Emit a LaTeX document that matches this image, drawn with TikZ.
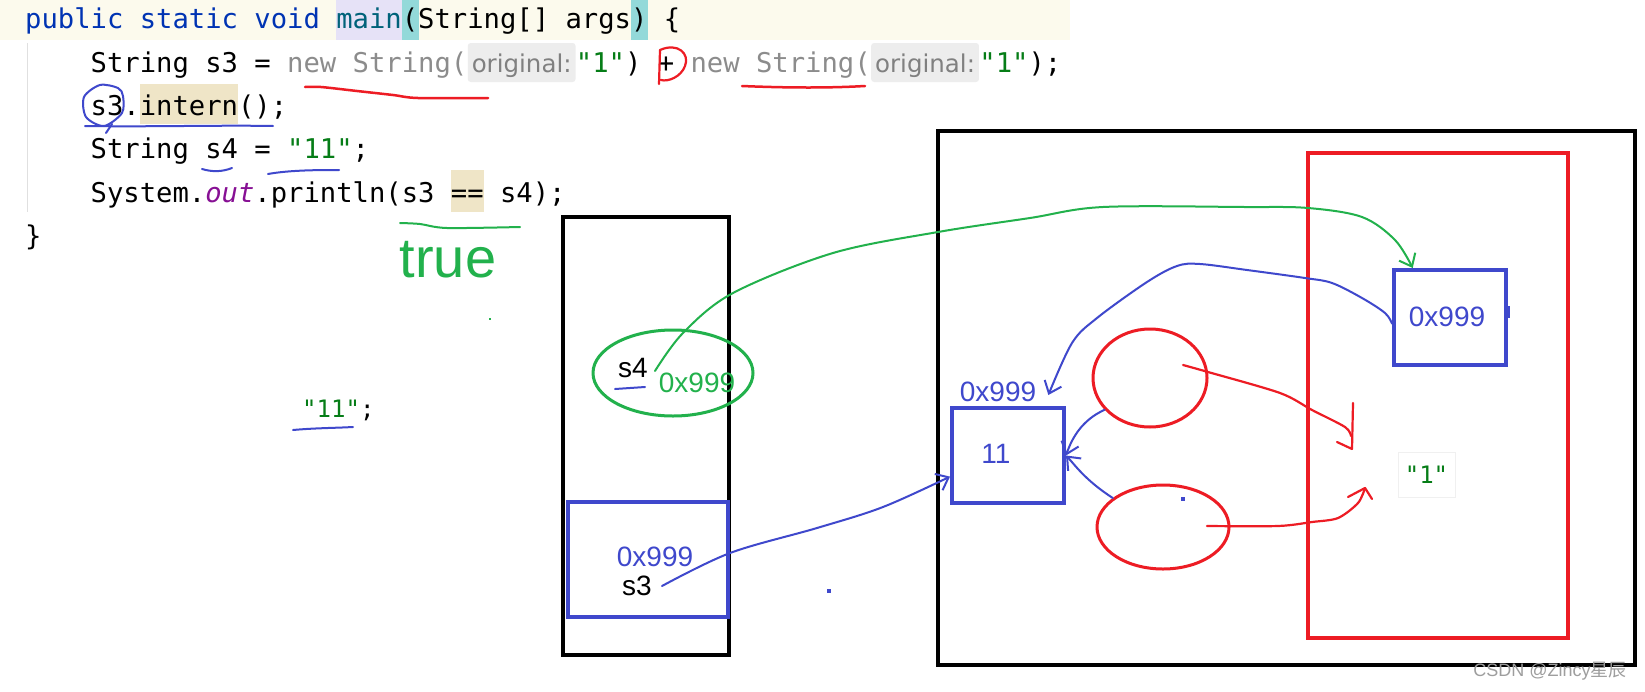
\documentclass[tikz,border=0pt]{standalone}
\usepackage{fontspec}
\usetikzlibrary{arrows.meta,shapes.geometric}
\newfontfamily\codefont{DejaVu Sans Mono}
\newfontfamily\hintfont{DejaVu Sans}
\newfontfamily\drawfont{Liberation Sans}
\newfontfamily\cjkfont{Noto Sans CJK SC}
\definecolor{pred}{HTML}{ED1C24}
\definecolor{pblue}{HTML}{3F48CC}
\definecolor{pgreen}{HTML}{22B14C}
\definecolor{kw}{HTML}{0033B3}
\definecolor{meth}{HTML}{00627A}
\definecolor{strg}{HTML}{067D17}
\definecolor{dim}{HTML}{8C8C8C}
\definecolor{hintfg}{HTML}{808080}
\definecolor{hintbg}{HTML}{EDEDED}
\definecolor{purp}{HTML}{871094}
\definecolor{linehl}{HTML}{FCFAED}
\definecolor{mainbg}{HTML}{E6E2F7}
\definecolor{parenbg}{HTML}{93D9D9}
\definecolor{tanbg}{HTML}{EFE5C7}
\begin{document}
\begin{tikzpicture}[x=1pt,y=-1pt,
  code/.style={font=\codefont\fontsize{27.2}{32}\selectfont, inner sep=0pt, anchor=base west},
  hint/.style={font=\hintfont\fontsize{24.5}{28}\selectfont, text=hintfg, fill=hintbg, rounded corners=3pt, anchor=base west, inner xsep=4pt, inner ysep=0pt, text height=29pt, text depth=10pt},
  lbl/.style={font=\drawfont\fontsize{28}{32}\selectfont, inner sep=0pt},
  frame/.style={draw=black, line width=4.5pt, inner sep=0pt},
  bluebox/.style={draw=pblue, line width=4pt, inner sep=0pt},
  hb/.style={draw=pblue, line width=2pt, line cap=round, line join=round},
  hg/.style={draw=pgreen, line width=2pt, line cap=round, line join=round},
  hr/.style={draw=pred, line width=2.2pt, line cap=round, line join=round},
  barb/.style={-{Straight Barb[length=11pt,width=18pt]}},
]
\useasboundingbox (0,0) rectangle (1645,691);
\fill[white] (0,0) rectangle (1645,691);

% ---------- code backgrounds ----------
\fill[linehl] (0,0) rectangle (1070,40);
\fill[mainbg] (336,0) rectangle (402,40);
\fill[parenbg] (402,0) rectangle (418.5,40);
\fill[parenbg] (631,0) rectangle (647.5,40);
\fill[tanbg] (139.6,84) rectangle (237.9,124);
\fill[tanbg] (450.8,170) rectangle (483.5,212);
\draw[black!12, line width=1pt] (27,43) -- (27,212);

% ---------- code ----------
\node[code] (l1) at (25,28) {\textcolor{kw}{public static void} \textcolor{meth}{main}(String[] args) \{};
\node[code] (l2a) at (90.5,72) {String s3 = \textcolor{dim}{new String(}};
\node[hint] (h1) at (l2a.base east) {original:};
\node[code] (l2b) at (h1.base east) {\textcolor{strg}{"1"}) + \textcolor{dim}{new String(}};
\node[hint] (h2) at (l2b.base east) {original:};
\node[code] (l2c) at (h2.base east) {\textcolor{strg}{"1"});};
\node[code] (l3) at (90.5,115) {s3.intern();};
\node[code] (l4) at (90.5,158) {String s4 = \textcolor{strg}{"11"};};
\node[code] (l5) at (90.5,202) {System.\textcolor{purp}{\itshape out}.println(s3 == s4);};
\node[code] (l6) at (25,245) {\}};

% ---------- code annotations ----------
\draw[hr, line width=2.5pt] plot[smooth] coordinates {(305,87) (321,87) (357,91) (393,95) (418,98) (488,98)};
\draw[hr, line width=2.5pt] (742,86) .. controls (790,88) and (830,88) .. (865,86);
\draw[hr] (659,84) -- (660,50) .. controls (678,42) and (690,54) .. (685,66) .. controls (681,77) and (668,82) .. (661,80);
\draw[hb] plot[smooth cycle] coordinates {(118,88) (100,85) (84,97) (86,117) (104,126) (122,113) (123,96)};
\draw[hb] (112,124) -- (106,133);
\draw[hb] (85,126) .. controls (150,127) and (220,125) .. (273,126);
\draw[hb] (202,169) .. controls (212,172) and (222,172) .. (232,168);
\draw[hb] (268,174) .. controls (290,170) and (320,170) .. (339,170);
\draw[hg] plot[smooth] coordinates {(400,223) (420,224) (447,228) (520,227)};
\node[font=\drawfont\fontsize{56}{60}\selectfont, text=pgreen, anchor=base, inner sep=0pt] (true) at (448,277) {true};
\fill[pgreen] (489,318) rectangle (491,320);

\node[code, font=\codefont\fontsize{24}{28}\selectfont] (lit) at (302,417) {\textcolor{strg}{"11"};};
\draw[hb] (293,430) .. controls (315,428) and (335,428) .. (353,427);

% ---------- stack ----------
\node[frame, minimum width=166pt, minimum height=438pt] (stack) at (646,436) {};
\node[bluebox, minimum width=160pt, minimum height=115pt] (s3box) at (648,559.5) {};
\node[lbl, text=pblue] (s3val) at (655,557) {0x999};
\node[lbl] (s3name) at (637,586) {s3};
\node[draw=pgreen, line width=3pt, ellipse, minimum width=160pt, minimum height=86pt, inner sep=0pt] (s4ell) at (673,373) {};
\node[lbl] (s4name) at (633,368) {s4};
\draw[hb] (615,389) -- (645,387);
\node[lbl, text=pgreen] (s4val) at (697,383) {0x999};
\fill[pblue] (827,589) rectangle (831,593);

% ---------- heap ----------
\node[frame, minimum width=697pt, minimum height=534pt] (heap) at (1286.5,398) {};
\node[draw=pred, line width=4pt, minimum width=260pt, minimum height=485pt, inner sep=0pt] (pool) at (1438,395.5) {};
\node[bluebox, minimum width=112pt, minimum height=95pt] (rbox) at (1450,317.5) {};
\node[lbl, text=pblue] (rval) at (1447,317) {0x999};
\node[bluebox, minimum width=112pt, minimum height=95pt] (b11) at (1008,455.5) {};
\node[lbl, text=pblue] (v11) at (996,454) {11};
\node[lbl, text=pblue] (addr) at (998,392) {0x999};
\node[draw=pred, line width=3pt, ellipse, minimum width=114pt, minimum height=98pt, inner sep=0pt] (rc1) at (1150,378) {};
\node[draw=pred, line width=3pt, ellipse, minimum width=132pt, minimum height=84pt, inner sep=0pt] (rc2) at (1163,527) {};
\fill[pblue] (1181,497) rectangle (1185,501);
\node[draw=black!6, line width=1pt, font=\codefont\fontsize{24}{28}\selectfont, text=strg, minimum width=57pt, minimum height=45pt, inner sep=0pt] (one) at (1426.5,474.5) {"1"};
\draw[pblue, line width=3pt] (1393,333) -- (1393,347);
\draw[pblue, line width=3pt] (1508,306) -- (1508,318);

% ---------- connectors ----------
\draw[hg, barb] plot[smooth, tension=0.55] coordinates {([xshift=7pt,yshift=-3pt]s4name.east) (683,333) (733,293) (833,253) (938,232) (1030,218) (1103,207) (1245,207) (1308,208) (1362,217) (1395,240) (rbox.127)};
\draw[hb, barb] plot[smooth, tension=0.55] coordinates {(rbox.186) (1385,313) (1362,298) (1332,283) (1305,278) (1247,270) (1200,264) (1177,266) (1147,282) (1097,318) (1072,343) ([xshift=12pt,yshift=-3pt]addr.east)};
\draw[hb, barb] plot[smooth, tension=0.55] coordinates {([xshift=10pt]s3name.east) (730,553) (817,528) (883,507) (b11.200)};
\draw[hb, barb] (rc1.215) .. controls (1082,420) and (1072,438) .. (b11.east);
\draw[hb, barb] (rc2.150) .. controls (1085,480) and (1075,465) .. (b11.east);

\coordinate (r1s) at (1183,365);
\draw[hr] plot[smooth] coordinates {(r1s) (1208,372) (1280,393) (1312,410) (1345,427) (1351,436)};
\draw[hr] (1353,403) -- (1352,449) -- (1337,442);
\coordinate (r2s) at (1207,526);
\draw[hr] plot[smooth] coordinates {(r2s) (1278,526) (1312,522) (1338,518) (1358,503) (1365,488)};
\draw[hr] (1348,497) -- (1365,488) -- (1372,499);

% ---------- watermark ----------
\node[font=\drawfont\fontsize{18}{20}\selectfont, text=black!38, inner sep=0pt] (wm) at (1550,671) {CSDN @Zincy{\cjkfont 星辰}};
\end{tikzpicture}
\end{document}
